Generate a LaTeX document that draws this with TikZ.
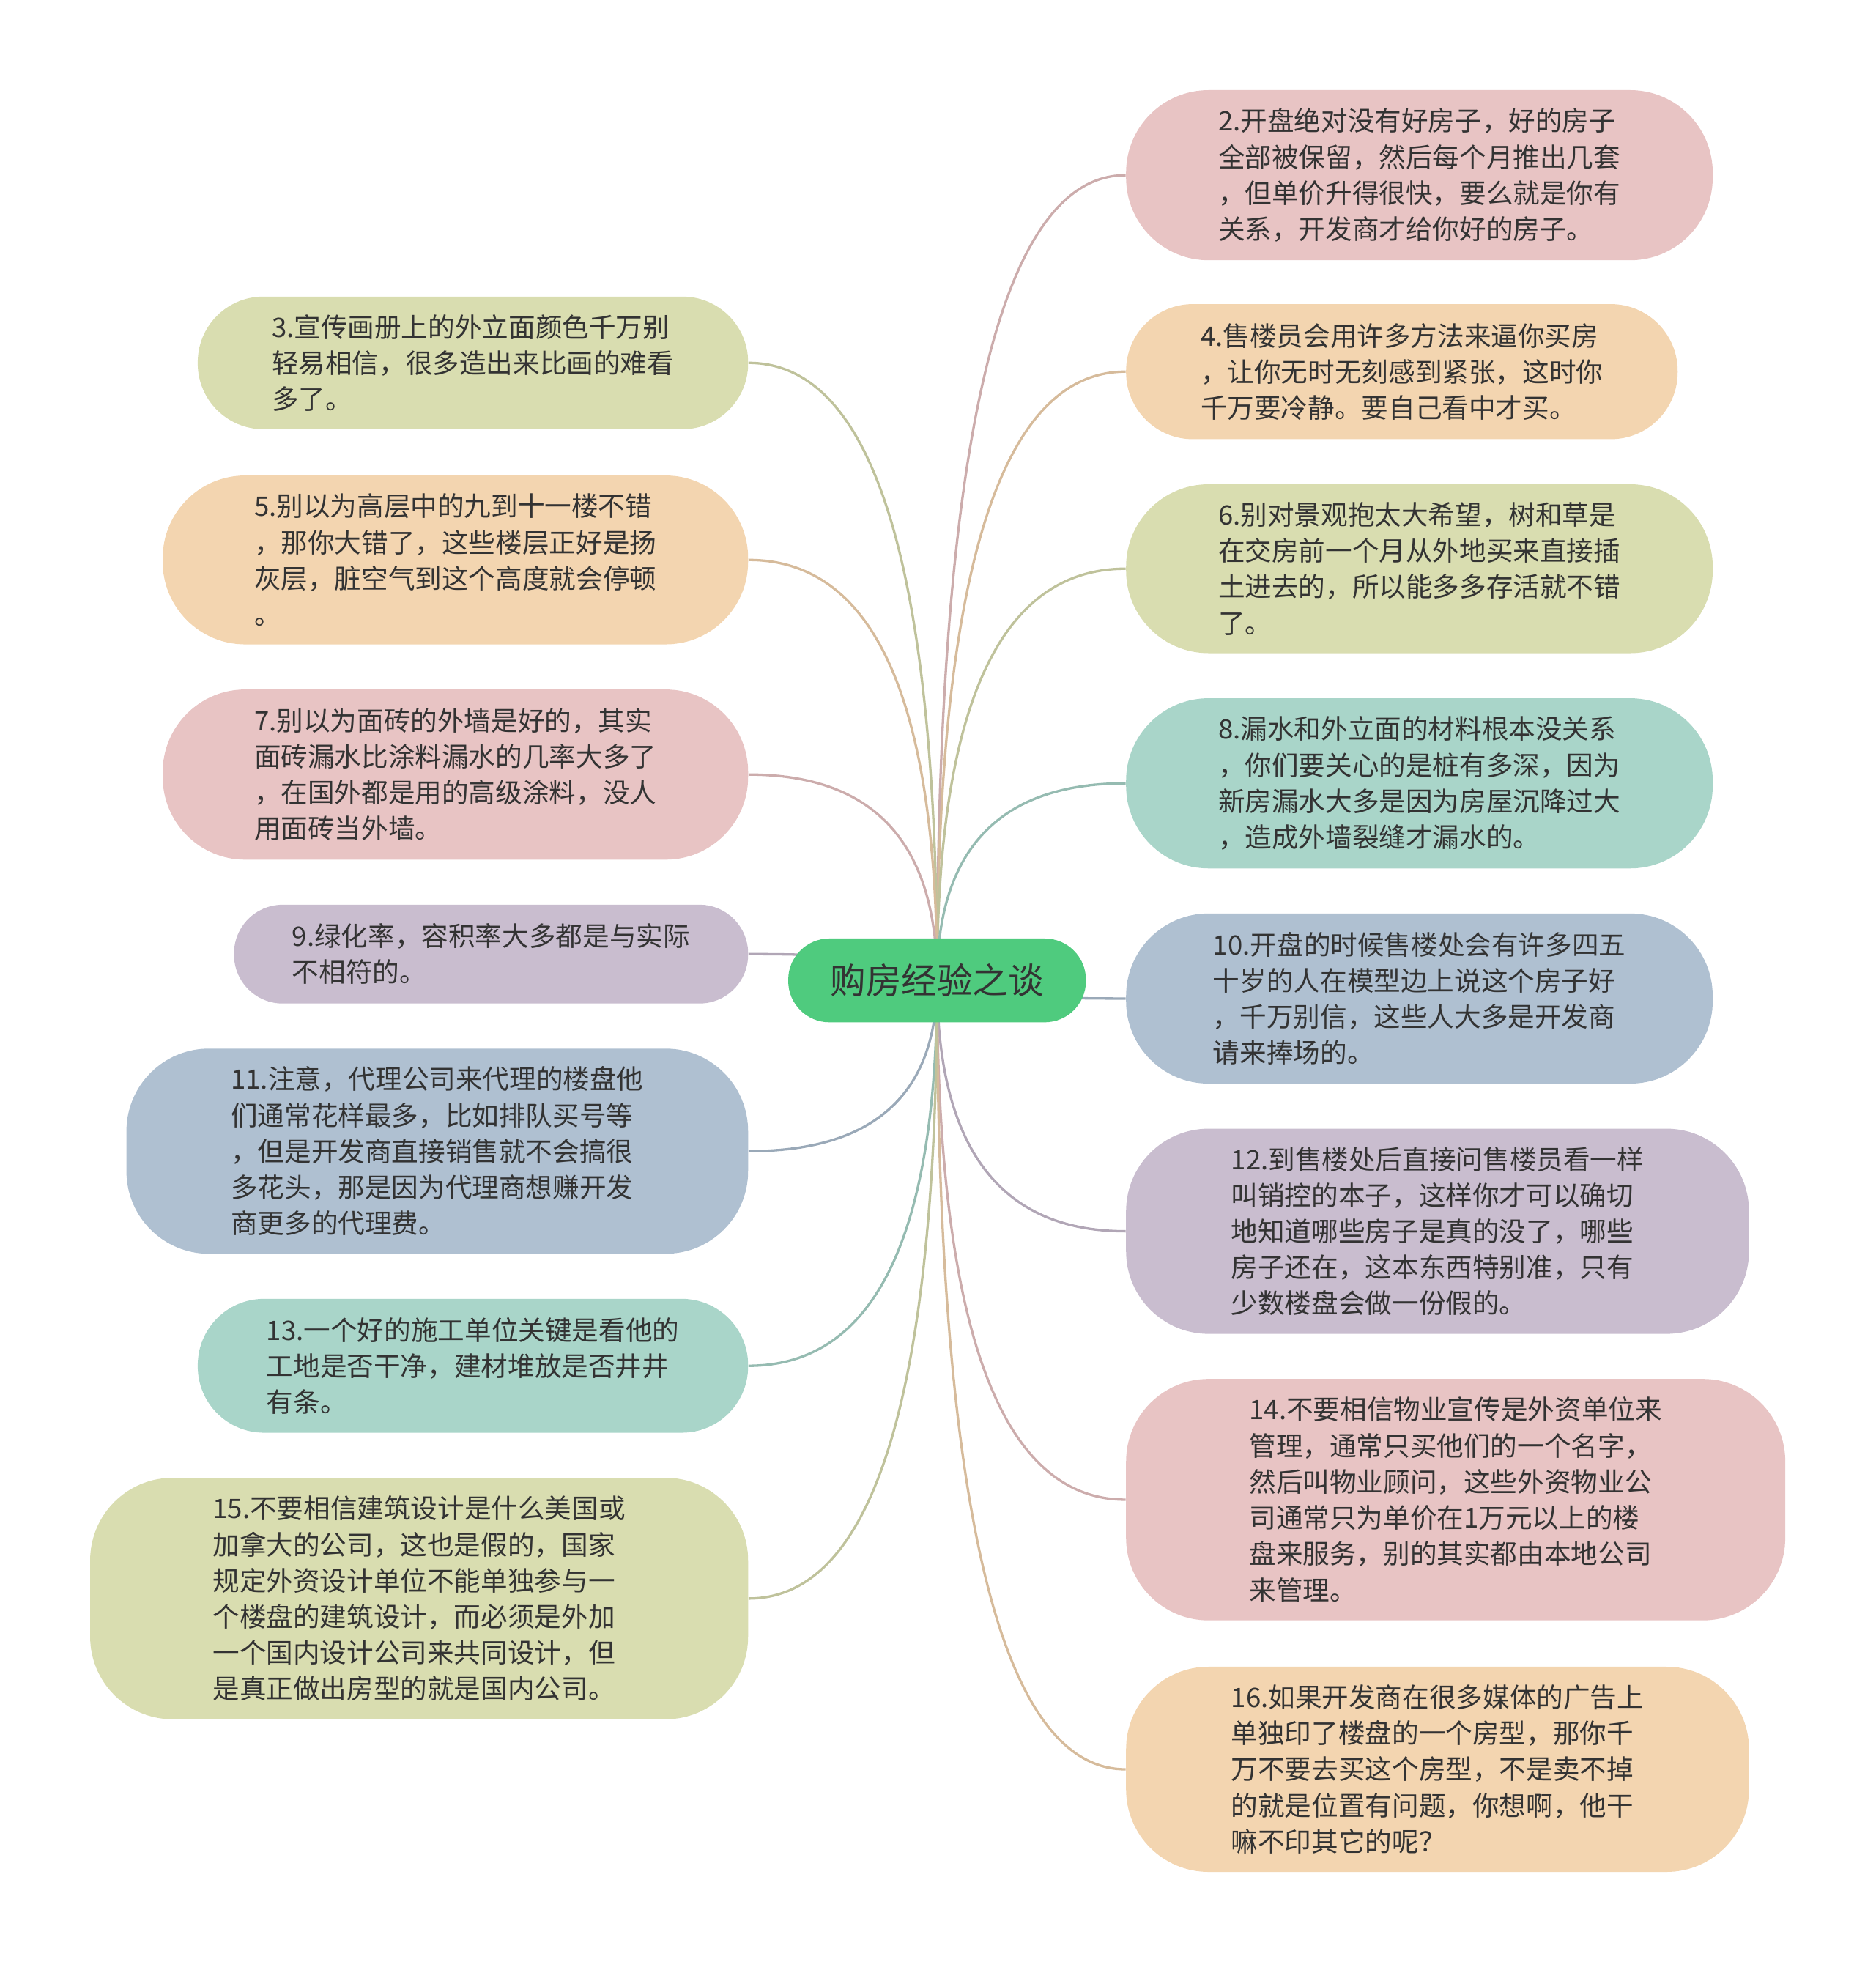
\documentclass[tikz,border=0pt]{standalone}
\usepackage{fontspec}
\newfontfamily\cjk{Noto Sans CJK SC}
\usetikzlibrary{backgrounds,calc}

\definecolor{pinkfill}{HTML}{E8C4C4}
\definecolor{peachfill}{HTML}{F3D5B0}
\definecolor{olivefill}{HTML}{D9DDB0}
\definecolor{tealfill}{HTML}{A9D5C9}
\definecolor{bluefill}{HTML}{AFC0D1}
\definecolor{lilacfill}{HTML}{C9BDCF}
\definecolor{rootfill}{HTML}{4FCB7E}
\definecolor{inkgray}{HTML}{333333}

\tikzset{
  leaf/.style={fill=#1, text=inkgray, align=left, inner sep=0pt,
    font=\cjk\fontsize{12.2pt}{16.4pt}\selectfont},
  rootbox/.style={fill=rootfill, text=inkgray, inner sep=0pt,
    font=\cjk\fontsize{16.2pt}{20pt}\selectfont},
  link/.style={draw=#1!88!black, line width=1.1pt}
}

\begin{document}
\begin{tikzpicture}[x=0.02cm, y=-0.02cm]
  \useasboundingbox (0,0) rectangle (1499,1568);

  % 中心主题
  \node[rootbox, minimum width=4.76cm, minimum height=1.34cm, rounded corners=0.66cm] (root) at (749,783.5) {购房经验之谈};

  % 右侧分支
  \node[leaf=pinkfill, minimum width=9.38cm, minimum height=2.72cm, rounded corners=1.32cm] (n2) at (1134.5,140)
    {2.开盘绝对没有好房子，好的房子\\全部被保留，然后每个月推出几套\\，但单价升得很快，要么就是你有\\关系，开发商才给你好的房子。};
  \node[leaf=peachfill, minimum width=8.82cm, minimum height=2.16cm, rounded corners=1.07cm] (n4) at (1120.5,297)
    {4.售楼员会用许多方法来逼你买房\\，让你无时无刻感到紧张，这时你\\千万要冷静。要自己看中才买。};
  \node[leaf=olivefill, minimum width=9.38cm, minimum height=2.70cm, rounded corners=1.32cm] (n6) at (1134.5,454.5)
    {6.别对景观抱太大希望，树和草是\\在交房前一个月从外地买来直接插\\土进去的，所以能多多存活就不错\\了。};
  \node[leaf=tealfill, minimum width=9.38cm, minimum height=2.72cm, rounded corners=1.32cm] (n8) at (1134.5,626)
    {8.漏水和外立面的材料根本没关系\\，你们要关心的是桩有多深，因为\\新房漏水大多是因为房屋沉降过大\\，造成外墙裂缝才漏水的。};
  \node[leaf=bluefill, minimum width=9.38cm, minimum height=2.72cm, rounded corners=1.32cm] (n10) at (1134.5,798)
    {10.开盘的时候售楼处会有许多四五\\十岁的人在模型边上说这个房子好\\，千万别信，这些人大多是开发商\\请来捧场的。};
  \node[leaf=lilacfill, minimum width=9.96cm, minimum height=3.28cm, rounded corners=1.32cm] (n12) at (1149,984)
    {12.到售楼处后直接问售楼员看一样\\叫销控的本子，这样你才可以确切\\地知道哪些房子是真的没了，哪些\\房子还在，这本东西特别准，只有\\少数楼盘会做一份假的。};
  \node[leaf=pinkfill, minimum width=10.54cm, minimum height=3.86cm, rounded corners=1.32cm] (n14) at (1163.5,1198.5)
    {14.不要相信物业宣传是外资单位来\\管理，通常只买他们的一个名字，\\然后叫物业顾问，这些外资物业公\\司通常只为单价在1万元以上的楼\\盘来服务，别的其实都由本地公司\\来管理。};
  \node[leaf=peachfill, minimum width=9.96cm, minimum height=3.28cm, rounded corners=1.32cm] (n16) at (1149,1414)
    {16.如果开发商在很多媒体的广告上\\单独印了楼盘的一个房型，那你千\\万不要去买这个房型，不是卖不掉\\的就是位置有问题，你想啊，他干\\嘛不印其它的呢？};

  % 左侧分支
  \node[leaf=olivefill, minimum width=8.80cm, minimum height=2.12cm, rounded corners=1.05cm] (n3) at (378,290)
    {3.宣传画册上的外立面颜色千万别\\轻易相信，很多造出来比画的难看\\多了。};
  \node[leaf=peachfill, minimum width=9.36cm, minimum height=2.70cm, rounded corners=1.32cm] (n5) at (364,447.5)
    {5.别以为高层中的九到十一楼不错\\，那你大错了，这些楼层正好是扬\\灰层，脏空气到这个高度就会停顿\\。};
  \node[leaf=pinkfill, minimum width=9.36cm, minimum height=2.72cm, rounded corners=1.32cm] (n7) at (364,619)
    {7.别以为面砖的外墙是好的，其实\\面砖漏水比涂料漏水的几率大多了\\，在国外都是用的高级涂料，没人\\用面砖当外墙。};
  \node[leaf=lilacfill, minimum width=8.22cm, minimum height=1.58cm, rounded corners=0.78cm] (n9) at (392.5,762.5)
    {9.绿化率，容积率大多都是与实际\\不相符的。};
  \node[leaf=bluefill, minimum width=9.94cm, minimum height=3.28cm, rounded corners=1.32cm] (n11) at (349.5,920)
    {11.注意，代理公司来代理的楼盘他\\们通常花样最多，比如排队买号等\\，但是开发商直接销售就不会搞很\\多花头，那是因为代理商想赚开发\\商更多的代理费。};
  \node[leaf=tealfill, minimum width=8.80cm, minimum height=2.14cm, rounded corners=1.06cm] (n13) at (378,1091.5)
    {13.一个好的施工单位关键是看他的\\工地是否干净，建材堆放是否井井\\有条。};
  \node[leaf=olivefill, minimum width=10.52cm, minimum height=3.86cm, rounded corners=1.32cm] (n15) at (335,1277.5)
    {15.不要相信建筑设计是什么美国或\\加拿大的公司，这也是假的，国家\\规定外资设计单位不能单独参与一\\个楼盘的建筑设计，而必须是外加\\一个国内设计公司来共同设计，但\\是真正做出房型的就是国内公司。};

  % 连线
  \begin{scope}[on background layer]
    \foreach \n/\a/\c in {n2/west/pinkfill, n4/west/peachfill, n6/west/olivefill, n8/west/tealfill,
                          n10/west/bluefill, n12/west/lilacfill, n14/west/pinkfill, n16/west/peachfill,
                          n3/east/olivefill, n5/east/peachfill, n7/east/pinkfill, n9/east/lilacfill,
                          n11/east/bluefill, n13/east/tealfill, n15/east/olivefill}{
      \coordinate (k) at (root.center |- \n.\a);
      \draw[link=\c] (root.center) .. controls ($(root.center)!2/3!(k)$) and ($(\n.\a)!2/3!(k)$) .. (\n.\a);
    }
  \end{scope}
\end{tikzpicture}
\end{document}
